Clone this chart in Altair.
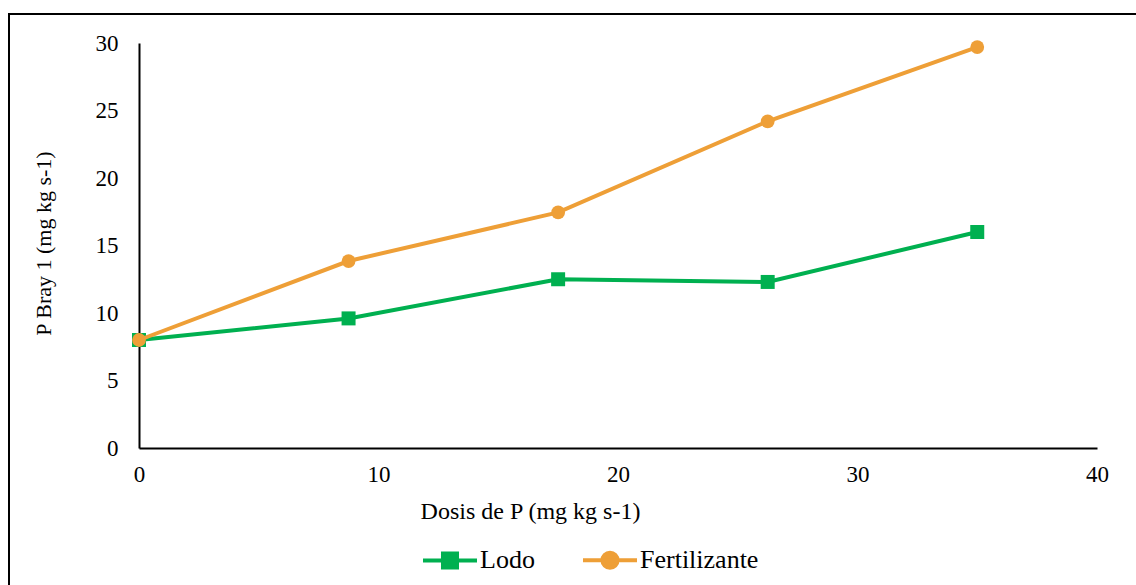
import altair as alt
import pandas as pd

# ---- data ----
dosis = [0, 8.75, 17.5, 26.25, 35]
lodo = [8.0, 9.6, 12.5, 12.3, 16.0]
fertilizante = [8.0, 13.85, 17.45, 24.2, 29.7]
series_names = ["Lodo", "Fertilizante"]
series_colors = ["#00b050", "#ee9f37"]
x_ticks = [0, 10, 20, 30, 40]
y_ticks = [0, 5, 10, 15, 20, 25, 30]

rows = []
for name, vals in zip(series_names, [lodo, fertilizante]):
    for xv, yv in zip(dosis, vals):
        rows.append({"dosis": xv, "p": yv, "serie": name})
df = pd.DataFrame(rows)

FONT = "Liberation Serif"
W, H = 958, 405

# legend symbols: a line segment plus the series marker
sq = "M-1,0L1,0M-0.26,-0.26L0.26,-0.26L0.26,0.26L-0.26,0.26Z"
ci = "M-1,0L1,0M0.28,0A0.28,0.28,0,1,1,-0.28,0A0.28,0.28,0,1,1,0.28,0Z"

legend = alt.Legend(
    title=None,
    orient="none",
    legendX=282,
    legendY=488,
    direction="horizontal",
    labelFont=FONT,
    labelFontSize=26,
    labelColor="black",
    labelOffset=1,
    columnPadding=40,
    symbolSize=2916,
    symbolStrokeWidth=4,
    symbolOpacity=1,
    padding=0,
)

x = alt.X(
    "dosis:Q",
    scale=alt.Scale(domain=[0, 40], nice=False),
    axis=alt.Axis(
        values=x_ticks,
        title="Dosis de P (mg kg s-1)",
        titleFont=FONT,
        titleFontSize=24,
        titleFontWeight="normal",
        titleColor="black",
        titleX=391,
        titleY=70,
        titleAlign="center",
        titleBaseline="alphabetic",
        labelFont=FONT,
        labelFontSize=23,
        labelColor="black",
        labelPadding=15,
        labelFlush=False,
        ticks=False,
        grid=False,
        domainColor="black",
        domainWidth=2,
    ),
)
y = alt.Y(
    "p:Q",
    scale=alt.Scale(domain=[0, 30], nice=False),
    axis=alt.Axis(
        values=y_ticks,
        title="P Bray 1 (mg kg s-1)",
        titleFont=FONT,
        titleFontSize=22,
        titleFontWeight="normal",
        titleColor="black",
        titleAngle=270,
        titleX=-89,
        titleY=200,
        titleAlign="center",
        titleBaseline="alphabetic",
        labelFont=FONT,
        labelFontSize=23,
        labelColor="black",
        labelPadding=21,
        labelFlush=False,
        ticks=False,
        grid=False,
        domainColor="black",
        domainWidth=2,
    ),
)

base = alt.Chart(df)
layers = []
shapes = {"Lodo": "square", "Fertilizante": "circle"}
sizes = {"Lodo": 196, "Fertilizante": 190}
for name, col in zip(series_names, series_colors):
    sub = base.transform_filter(alt.datum.serie == name)
    layers.append(sub.mark_line(strokeWidth=4, color=col).encode(x=x, y=y))
    layers.append(
        sub.mark_point(
            filled=True, opacity=1, shape=shapes[name], size=sizes[name], color=col
        ).encode(x=x, y=y)
    )

# legend-only layer (no rows drawn; entries come from the explicit scale domains)
leg_layer = (
    base.transform_filter("false")
    .mark_point(filled=True, opacity=1, strokeWidth=4)
    .encode(
        x=x,
        y=y,
        color=alt.Color(
            "serie:N",
            scale=alt.Scale(domain=series_names, range=series_colors),
            legend=legend,
        ),
        stroke=alt.Stroke(
            "serie:N",
            scale=alt.Scale(domain=series_names, range=series_colors),
            legend=legend,
        ),
        shape=alt.Shape(
            "serie:N",
            scale=alt.Scale(domain=series_names, range=[sq, ci]),
            legend=legend,
        ),
    )
)

frame = alt.Chart(pd.DataFrame({"k": [0]})).mark_rect(
    fillOpacity=0, stroke="black", strokeWidth=2
).encode(
    x=alt.value(-130), x2=alt.value(1010), y=alt.value(-29), y2=alt.value(600)
)

chart = (
    alt.layer(frame, *layers, leg_layer)
    .properties(
        width=W,
        height=H,
        autosize=alt.AutoSizeParams(type="none"),
        padding={"left": 139, "top": 43, "right": 39, "bottom": 137},
        background="white",
    )
    .configure_view(strokeWidth=0)
    .configure_axis(labelFont=FONT, titleFont=FONT)
    .configure_legend(labelFont=FONT)
    .configure_text(font=FONT)
)

chart.save("out.html", embed_options={"renderer": "svg", "actions": False})
